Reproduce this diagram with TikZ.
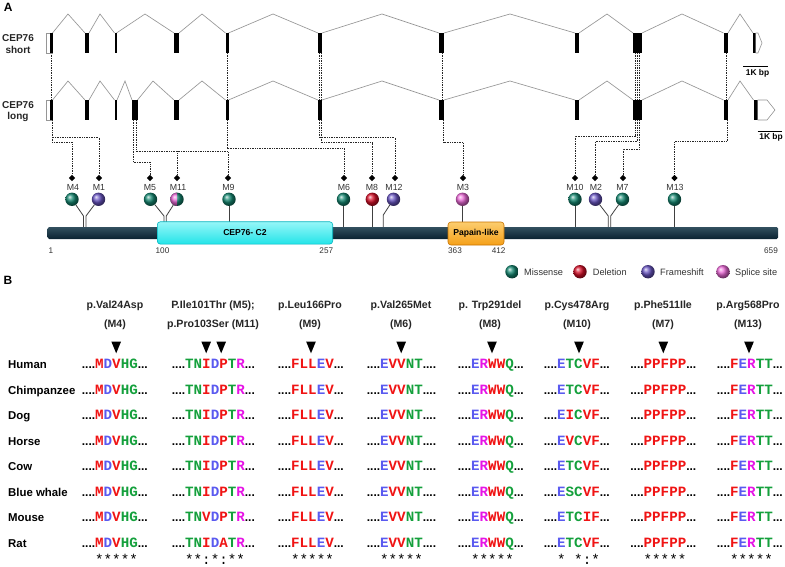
\documentclass[tikz,border=0pt]{standalone}
\usepackage{fontspec}
\setmainfont{Liberation Sans}
\newfontfamily\monof{Liberation Mono}
\usetikzlibrary{shapes.geometric}
\definecolor{aaR}{RGB}{240,20,20}
\definecolor{aaB}{RGB}{90,90,240}
\definecolor{aaG}{RGB}{20,160,60}
\definecolor{aaM}{RGB}{230,20,230}
\definecolor{missC}{RGB}{20,135,112}
\definecolor{delC}{RGB}{215,15,40}
\definecolor{frC}{RGB}{105,85,195}
\definecolor{spC}{RGB}{235,105,215}
\definecolor{introC}{RGB}{150,150,150}
\definecolor{barC}{RGB}{10,34,48}
\definecolor{barL}{RGB}{50,80,95}
\definecolor{c2C}{RGB}{35,228,232}
\definecolor{c2L}{RGB}{150,246,248}
\definecolor{c2D}{RGB}{0,180,190}
\definecolor{papC}{RGB}{245,160,25}
\definecolor{papL}{RGB}{252,205,110}
\definecolor{papD}{RGB}{200,115,0}
\colorlet{colA}{aaR}\colorlet{colV}{aaR}\colorlet{colF}{aaR}\colorlet{colP}{aaR}
\colorlet{colM}{aaR}\colorlet{colI}{aaR}\colorlet{colL}{aaR}\colorlet{colW}{aaR}
\colorlet{colD}{aaB}\colorlet{colE}{aaB}
\colorlet{colR}{aaM}\colorlet{colK}{aaM}
\colorlet{colS}{aaG}\colorlet{colT}{aaG}\colorlet{colY}{aaG}\colorlet{colH}{aaG}
\colorlet{colC}{aaG}\colorlet{colN}{aaG}\colorlet{colG}{aaG}\colorlet{colQ}{aaG}
\newcommand\fs[1]{\fontsize{#1}{#1}\selectfont}
\newcommand\seqf{\monof\bfseries\fs{14.2}}
\newcommand\dotf{\rmfamily\bfseries\fs{12}}
\def\sq#1{\sqA#1\relax}
\def\sqA#1{\ifx#1\relax\else\sqC{#1}\expandafter\sqA\fi}
\def\sqC#1{\textcolor{col#1}{#1}}
\newcommand\sqx[1]{\expandafter\sq\expandafter{#1}}
\begin{document}
\begin{tikzpicture}[x=1pt,y=-1pt,
  intron/.style={draw=introC, line width=0.65pt},
  dotl/.style={draw=black!85, line width=0.85pt, dash pattern=on 0.85pt off 0.85pt},
  diam/.style={diamond, fill=black, inner sep=0pt, minimum size=6.5pt},
  ball/.style={circle, inner sep=0pt, minimum size=13.4pt},
  mlab/.style={font=\fs{8.8}, text=black!80, inner sep=0pt, anchor=base},
  stem/.style={draw=black!75, line width=0.8pt},
  num/.style={font=\fs{8.2}, text=black!80, inner sep=0pt, anchor=base},
  leg/.style={font=\fs{9.2}, text=black!80, inner sep=0pt, anchor=base west},
  glab/.style={font=\bfseries\fs{10}, text=black!85, inner sep=0pt, anchor=base},
  spec/.style={font=\bfseries\fs{11.4}, inner sep=0pt, anchor=base west},
  seq/.style={font=\seqf, inner sep=0pt, anchor=base west},
  cons/.style={font=\monof\fs{14.2}, inner sep=0pt, anchor=base west},
  hdr/.style={font=\bfseries\fs{10.6}, text=black!85, inner sep=0pt, anchor=base},
  tri/.pic={\fill (-4.8,-5.8) -- (4.8,-5.8) -- (0,5.8) -- cycle;}
]
\useasboundingbox (0,0) rectangle (785,567);
\fill[white] (0,0) rectangle (785,567);

% ---------------- Panel A ----------------
\node[font=\bfseries\fs{12}, inner sep=0pt] (lA) at (8.3,7.5) {A};
\node[glab] (sh1) at (18,41.7) {CEP76};
\node[glab] (sh2) at (18,54) {short};
\node[glab] (lo1) at (18,108.3) {CEP76};
\node[glab] (lo2) at (18,119.3) {long};

% dotted links between transcripts
\draw[dotl] (51.3,53) -- (51.3,100);
\draw[dotl] (227,53) -- (227,100);
\draw[dotl] (319.3,53) -- (319.3,100);
\draw[dotl] (321.3,53) -- (321.3,100);
\draw[dotl] (442,53) -- (442,100);
\draw[dotl] (635.5,53) -- (635.5,100);
\draw[dotl] (637.7,53) -- (637.7,100);
\draw[dotl] (639.9,53) -- (639.9,100);
\draw[dotl] (726.5,53) -- (726.5,100);

% short transcript
\draw[intron] (52.5,33)--(68,14)--(85,33);
\draw[intron] (89,33)--(100,14)--(114.5,33);
\draw[intron] (116.5,33)--(145,14)--(174,33);
\draw[intron] (179,33)--(202,14)--(225.5,33);
\draw[intron] (228.5,33)--(273,14)--(318,33);
\draw[intron] (322,33)--(382,14)--(439,33);
\draw[intron] (444,33)--(510,14)--(575,33);
\draw[intron] (579,33)--(607,14)--(633,33);
\draw[intron] (642,33)--(682,14)--(723.5,33);
\draw[intron] (728,33)--(740,14)--(753,33);
\draw[draw=introC, fill=white, line width=0.6pt] (46,33) rectangle (52.5,53);
\fill (50,33) rectangle (52.5,53);
\foreach \a/\b in {85/89, 114.5/116.5, 174/179, 225.5/228.5, 318/322, 439/444, 575/579, 633/642, 723.5/728, 753/755.5}
  \fill (\a,33) rectangle (\b,53);
\draw[draw=introC, fill=white, line width=0.6pt] (755.5,33) -- (758,33) -- (762,43) -- (758,53) -- (755.5,53);

% long transcript
\draw[intron] (52.5,100)--(68,81)--(85,100);
\draw[intron] (89,100)--(100,81)--(114.5,100);
\draw[intron] (117,100)--(125,81)--(132,100);
\draw[intron] (137.5,100)--(153,81)--(174,100);
\draw[intron] (179,100)--(202,81)--(225.5,100);
\draw[intron] (228.5,100)--(273,81)--(318,100);
\draw[intron] (322,100)--(382,81)--(439,100);
\draw[intron] (444,100)--(510,81)--(575,100);
\draw[intron] (579,100)--(607,81)--(633,100);
\draw[intron] (642,100)--(682,81)--(723.5,100);
\draw[intron] (728,100)--(740,81)--(753.5,100);
\draw[draw=introC, fill=white, line width=0.6pt] (46,100) rectangle (52.5,120);
\fill (50,100) rectangle (52.5,120);
\foreach \a/\b in {85/89, 114.5/117, 132/137.5, 174/179, 225.5/228.5, 318/322, 439/444, 575/579, 633/642, 723.5/728, 753.5/757.5}
  \fill (\a,100) rectangle (\b,120);
\draw[draw=introC, fill=white, line width=0.6pt] (757.5,100) -- (767,100) -- (775,110) -- (767,120) -- (757.5,120);

% scale bars
\draw[line width=0.8pt] (743.3,66) -- (768.3,66);
\node[font=\bfseries\fs{8.4}, inner sep=0pt] (kb1) at (757.5,73) {1K bp};
\draw[line width=0.8pt] (757.7,131) -- (781.7,131);
\node[font=\bfseries\fs{8.4}, inner sep=0pt] (kb2) at (771,137) {1K bp};

% exon anchor coordinates
\coordinate (e1) at (52,120);
\coordinate (e3a) at (133,120);
\coordinate (e3b) at (136,120);
\coordinate (e5) at (227,120);
\coordinate (e6a) at (319.3,120);
\coordinate (e6b) at (321.3,120);
\coordinate (e7) at (443.5,120);
\coordinate (e9a) at (635.5,120);
\coordinate (e9b) at (637.7,120);
\coordinate (e9c) at (639.9,120);
\coordinate (e10) at (727,120);

% diamonds
\foreach \n/\x in {4/72, 1/99, 5/150, 11/177, 9/228, 6/344, 8/372, 12/395, 3/463, 10/575, 2/595, 7/623, 13/674.5}
  \node[diam] (d\n) at (\x,178) {};

\draw[dotl] (e1) |- (d1 |- 0,137.5) -- (d1);
\draw[dotl] (e1) |- (d4 |- 0,142) -- (d4);
\draw[dotl] (e3a) |- (d5 |- 0,162) -- (d5);
\draw[dotl] (e3b) |- (d9 |- 0,151.5) -- (d9);
\draw[dotl] (d11 |- 0,151.5) -- (d11);
\draw[dotl] (e5) |- (d6 |- 0,148) -- (d6);
\draw[dotl] (e6a) |- (d12 |- 0,137.7) -- (d12);
\draw[dotl] (e6b) |- (d8 |- 0,142.7) -- (d8);
\draw[dotl] (e7) |- (d3 |- 0,142.3) -- (d3);
\draw[dotl] (e9a) |- (d10 |- 0,136) -- (d10);
\draw[dotl] (e9b) |- (d2 |- 0,141.7) -- (d2);
\draw[dotl] (e9c) |- (d7 |- 0,149) -- (d7);
\draw[dotl] (e10) |- (d13 |- 0,141.7) -- (d13);

% mutation labels
\foreach \n/\x in {4/73, 1/99, 5/150, 11/178, 9/228.5, 6/344, 8/372, 12/394, 3/463, 10/575, 2/596, 7/622.5, 13/675}
  \node[mlab] (m\n) at (\x,191) {M\n};

% balls
\node[ball, ball color=missC] (b4) at (72,199.3) {};
\node[ball, ball color=frC] (b1) at (98.5,199.3) {};
\node[ball, ball color=missC] (b5) at (150.5,199.3) {};
\node[ball, ball color=missC] (b11) at (177,199.3) {};
\begin{scope}
  \clip (168,190) rectangle (177,209);
  \shade[ball color=spC] (177,199.3) circle (6.7pt);
\end{scope}
\node[ball, ball color=missC] (b9) at (229,199.3) {};
\node[ball, ball color=missC] (b6) at (343.5,199.3) {};
\node[ball, ball color=delC] (b8) at (372.3,199.3) {};
\node[ball, ball color=frC] (b12) at (393.5,199.3) {};
\node[ball, ball color=spC] (b3) at (462.5,199.3) {};
\node[ball, ball color=missC] (b10) at (575,199.3) {};
\node[ball, ball color=frC] (b2) at (595.5,199.3) {};
\node[ball, ball color=missC] (b7) at (622.5,199.3) {};
\node[ball, ball color=missC] (b13) at (674.5,199.3) {};

% stems
\draw[stem] (b4) -- (83.5,216) -- (83.5,227);
\draw[stem] (b1) -- (86,216) -- (86,227);
\draw[stem] (b5) -- (164,216) -- (164,222);
\draw[stem] (b11) -- (166.3,216) -- (166.3,222);
\draw[stem] (b9) -- (229,222);
\draw[stem] (b6) -- (343.5,227);
\draw[stem] (b8) -- (372.3,227);
\draw[stem] (b12) -- (383.3,215) -- (383.3,227);
\draw[stem] (b3) -- (462.5,222);
\draw[stem] (b10) -- (575,227);
\draw[stem] (b2) -- (608.3,216) -- (608.3,227);
\draw[stem] (b7) -- (610.7,216) -- (610.7,227);
\draw[stem] (b13) -- (674.5,227);

% protein bar
\shade[top color=barL, bottom color=barC, rounded corners=1.5pt] (47.5,227) rectangle (778,239);
\node[rounded corners=3pt, draw=c2D, line width=0.6pt, top color=c2L, bottom color=c2C,
      minimum width=175.4pt, minimum height=22.3pt, inner sep=0pt, font=\bfseries\fs{8.6}]
      (c2) at (245,232.9) {CEP76- C2};
\node[rounded corners=3pt, draw=papD, line width=0.6pt, top color=papL, bottom color=papC,
      minimum width=56pt, minimum height=23pt, inner sep=0pt, font=\bfseries\fs{8.6}]
      (pap) at (476,233.5) {Papain-like};

% positions
\node[num] (n1) at (51,253.5) {1};
\node[num] (n100) at (162.5,253.5) {100};
\node[num] (n257) at (326.3,253.5) {257};
\node[num] (n363) at (455,253.5) {363};
\node[num] (n412) at (498.7,253.5) {412};
\node[num] (n659) at (771,253.5) {659};

% legend
\node[ball, ball color=missC] (g1) at (512,271.7) {};
\node[leg] (t1) at (524,275) {Missense};
\node[ball, ball color=delC] (g2) at (580,271.7) {};
\node[leg] (t2) at (592.7,275) {Deletion};
\node[ball, ball color=frC] (g3) at (648,271.7) {};
\node[leg] (t3) at (660,275) {Frameshift};
\node[ball, ball color=spC] (g4) at (723,271.7) {};
\node[leg] (t4) at (735,275) {Splice site};

% ---------------- Panel B ----------------
\node[font=\bfseries\fs{12}, inner sep=0pt] (lB) at (8,280) {B};

\node[hdr] (h1) at (115,308.5) {p.Val24Asp};
\node[hdr] (h1b) at (115,327) {(M4)};
\node[hdr] (h2) at (213,308.5) {P.Ile101Thr (M5);};
\node[hdr] (h2b) at (213,327) {p.Pro103Ser (M11)};
\node[hdr] (h3) at (310,308.5) {p.Leu166Pro};
\node[hdr] (h3b) at (310,327) {(M9)};
\node[hdr] (h4) at (401,308.5) {p.Val265Met};
\node[hdr] (h4b) at (401,327) {(M6)};
\node[hdr] (h5) at (490,308.5) {p. Trp291del};
\node[hdr] (h5b) at (490,327) {(M8)};
\node[hdr] (h6) at (577,308.5) {p.Cys478Arg};
\node[hdr] (h6b) at (577,327) {(M10)};
\node[hdr] (h7) at (663,308.5) {p.Phe511Ile};
\node[hdr] (h7b) at (663,327) {(M7)};
\node[hdr] (h8) at (748,308.5) {p.Arg568Pro};
\node[hdr] (h8b) at (748,327) {(M13)};

\foreach \x in {116.2, 206.2, 221.2, 311, 401.2, 492, 579, 663.3, 749}
  \pic at (\x,347.5) {tri};

\foreach \nm/\yy/\cb/\cf [count=\i] in {Human/368.7/TNIDPTR/ETCVF, Chimpanzee/394.2/TNIDPTR/ETCVF, Dog/419.7/TNIDPTR/EICVF, Horse/445.2/TNIDPTR/EVCVF, Cow/470.7/TNIDPTR/ETCVF, Blue whale/496.2/TNIDPTR/ESCVF, Mouse/521.7/TNVDPTR/ETCIF, Rat/547.2/TNIDATR/ETCVF}{
  \node[spec] (sp\i) at (8,\yy) {\nm};
  \node[seq] (qa\i) at (95,\yy) {\llap{\dotf....}\sq{MDVHG}{\dotf...}};
  \node[seq] (qb\i) at (185,\yy) {\llap{\dotf....}\sqx{\cb}{\dotf...}};
  \node[seq] (qc\i) at (291,\yy) {\llap{\dotf....}\sq{FLLEV}{\dotf...}};
  \node[seq] (qd\i) at (380,\yy) {\llap{\dotf....}\sq{EVVNT}{\dotf....}};
  \node[seq] (qe\i) at (471,\yy) {\llap{\dotf....}\sq{ERWWQ}{\dotf...}};
  \node[seq] (qf\i) at (557,\yy) {\llap{\dotf....}\sqx{\cf}{\dotf...}};
  \node[seq] (qg\i) at (643.5,\yy) {\llap{\dotf....}\sq{PPFPP}{\dotf...}};
  \node[seq] (qh\i) at (730,\yy) {\llap{\dotf....}\sq{FERTT}{\dotf...}};
}

\node[cons] (k1) at (95,564) {*****};
\node[cons] (k2) at (185,564) {**:*:**};
\node[cons] (k3) at (291,564) {*****};
\node[cons] (k4) at (380,564) {*****};
\node[cons] (k5) at (471,564) {*****};
\node[cons] (k6) at (557,564) {*\hphantom{*}*:*};
\node[cons] (k7) at (643.5,564) {*****};
\node[cons] (k8) at (730,564) {*****};
\end{tikzpicture}
\end{document}
